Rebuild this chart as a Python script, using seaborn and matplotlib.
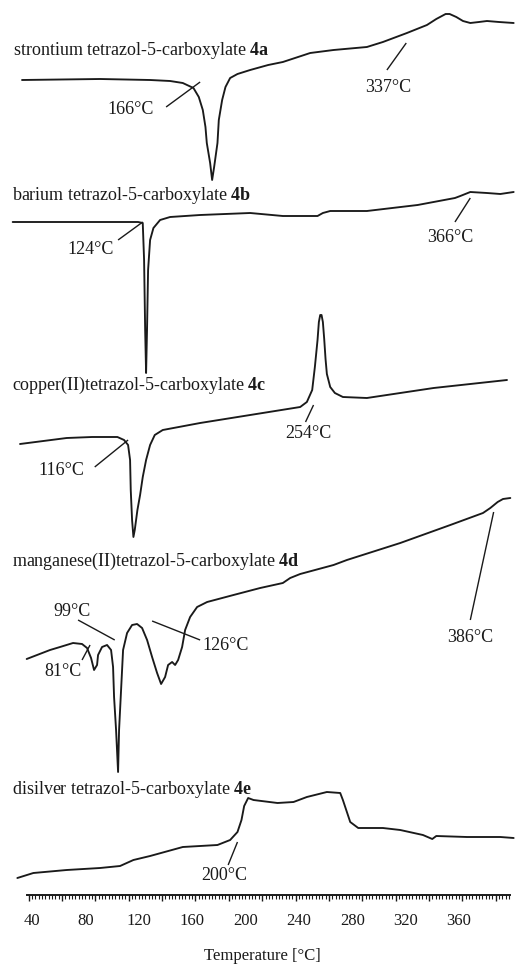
import matplotlib
matplotlib.use("Agg")
import matplotlib.pyplot as plt
import numpy as np
import pandas as pd
import seaborn as sns
from matplotlib.ticker import FixedLocator, NullFormatter

# ---------------- data (temperature in °C, DSC signal in arbitrary units) ----------------
T_4A = [32.5, 91, 128.5, 143.5, 153, 161, 165, 168, 170, 171, 173.5, 175, 176.5, 179, 180,
        182.5, 185, 188.5, 194, 203.5, 217, 228, 248.5, 266, 291, 303, 321, 336, 343, 350,
        353, 358, 363, 368.5, 375, 381, 390, 401]
S_4A = [0, 1, 0, -1, -3, -8, -17, -30, -47, -63, -83, -100, -87, -63, -40,
        -20, -7, 2, 6, 10, 15, 18, 27, 30, 33, 38, 47, 55, 61, 66,
        66, 63, 59, 57, 58, 59, 58, 57]

T_4B = [25.5, 61, 91, 119.5, 123, 124, 124.8, 125.5, 126.2, 127, 128.5, 131, 136, 143.5, 166,
        203.5, 228, 241, 254, 258, 263.5, 276, 291, 329, 357, 361, 368.5, 381, 391, 401]
S_4B = [0, 0, 0, 0, -1, -38, -108, -151, -108, -48, -18, -6, 2, 5, 7,
        9, 6, 6, 6, 9, 11, 11, 11, 17, 24, 26, 30, 29, 28, 30]

T_4C = [31, 66, 85, 104, 109, 112, 113.5, 114, 115, 116, 117, 119, 121, 123, 125.5, 128.5, 132,
        138, 166, 203.5, 241, 246, 250, 252, 254, 255, 256, 257, 258, 259, 260, 261, 263.5,
        267, 273, 291, 341, 396]
S_4C = [0, 6, 7, 7, 4, -1, -16, -46, -76, -93, -86, -66, -51, -33, -16, -1, 9,
        14, 21, 29, 37, 42, 54, 77, 104, 122, 129, 129, 122, 105, 85, 70, 57,
        51, 47, 46, 56, 64]

T_4D = [36, 53.5, 61, 70.75, 77.5, 81.25, 84.25, 86.5, 88.75, 89.5, 92.5, 96.25, 99.25, 100.75,
        101.5, 103, 104.5, 105.25, 106.75, 108.25, 111.25, 115, 118.75, 122.5, 126.25, 130,
        133.75, 136.75, 139.75, 142, 145, 147.25, 149.5, 152.5, 154.75, 158.5, 163.75, 171.25,
        191, 211, 228, 233.5, 241, 266, 276, 316, 353.5, 378, 383.5, 389, 393, 398.5]
S_4D = [0, 9, 12, 16, 15, 11, 1, -11, -6, 4, 12, 14, 9, -8,
        -38, -71, -113, -71, -31, 9, 26, 34, 35, 31, 19, 2,
        -14, -25, -18, -6, -3, -6, -1, 12, 29, 42, 52, 57,
        64, 71, 76, 81, 85, 94, 99, 116, 134, 146, 151, 157, 160, 161]

T_4E = [29, 41, 66, 91, 106, 116, 128.5, 153, 179, 188.5, 194, 197, 199, 202, 206, 224, 236,
        246, 261, 271, 273, 276, 278.5, 284.5, 303, 316, 333, 340, 343, 366, 391, 401]
S_4E = [0, 5, 8, 10, 12, 18, 22, 31, 33, 38, 46, 58, 72, 80, 78, 75, 76,
        81, 86, 85, 78, 66, 56, 50, 50, 48, 43, 39, 42, 41, 41, 40]

CURVES = ["4a", "4b", "4c", "4d", "4e"]
NAMES = ["strontium tetrazol-5-carboxylate", "barium tetrazol-5-carboxylate",
         "copper(II)tetrazol-5-carboxylate", "manganese(II)tetrazol-5-carboxylate",
         "disilver tetrazol-5-carboxylate"]
TEMPS = [T_4A, T_4B, T_4C, T_4D, T_4E]
SIGNALS = [S_4A, S_4B, S_4C, S_4D, S_4E]

TICK_LABELS = [40, 80, 120, 160, 200, 240, 280, 320, 360]

# ---------------- layout (stacking offsets, label positions) ----------------
OFFSETS = [815, 673, 451, 236, 17]
TITLE_POS = [(25.75, 845), (25, 700), (25, 510), (25, 334), (25, 105)]
ANNOT_TEXT = [("166°C", 114, 786), ("337°C", 307, 808),
              ("124°C", 84, 646), ("366°C", 353.5, 658),
              ("254°C", 247, 461), ("116°C", 61.75, 425),
              ("99°C", 70, 284), ("126°C", 185, 250), ("81°C", 63, 224), ("386°C", 368.5, 258),
              ("200°C", 184, 19)]
ANNOT_LINES = [(140.5, 788, 166, 813), (306, 825, 320.5, 852),
               (104.5, 655, 123, 673), (357, 673, 368.5, 697),
               (245, 473, 251, 490), (87, 428, 112, 455),
               (74.5, 275, 102, 255), (130, 274, 166, 255), (77.5, 235, 83.5, 250),
               (368.5, 275, 386, 383),
               (187, 30, 194, 53)]

# ---------------- style ----------------
sns.set_theme(style="white")
plt.rcParams["font.family"] = ["Liberation Serif", "DejaVu Serif"]
plt.rcParams["mathtext.fontset"] = "custom"
plt.rcParams["mathtext.rm"] = "Liberation Serif"
plt.rcParams["mathtext.bf"] = "Liberation Serif:bold"

rows = []
for name, ts, ss, off in zip(CURVES, TEMPS, SIGNALS, OFFSETS):
    for i, (t, s) in enumerate(zip(ts, ss)):
        rows.append({"curve": name, "order": i, "T": t, "y": s + off})
df = pd.DataFrame(rows)

W, H = 515, 967
fig = plt.figure(figsize=(W / 100, H / 100), dpi=100)
ax = fig.add_axes([10 / W, 72 / H, 505 / W, 895 / H])

sns.lineplot(data=df, x="T", y="y", units="curve", estimator=None, sort=False,
             color="#1a1a1a", linewidth=1.35, ax=ax, legend=False)
for ln in ax.lines:
    ln.set_solid_joinstyle("round")

ax.set_xlim(23.5, 402)
ax.set_ylim(0, 895)

for (label, code), (tx, ty) in zip(zip(NAMES, CURVES), TITLE_POS):
    ax.text(tx, ty, label + " $\\mathbf{" + code + "}$", ha="left", va="center",
            fontsize=13, color="#1a1a1a")

for txt, tx, ty in ANNOT_TEXT:
    ax.text(tx, ty, txt, ha="center", va="center", fontsize=13, color="#1a1a1a")

for x1, y1, x2, y2 in ANNOT_LINES:
    ax.plot([x1, x2], [y1, y2], color="#1a1a1a", lw=1.0, solid_capstyle="butt")

# axes decorations
for sp in ["top", "right", "left"]:
    ax.spines[sp].set_visible(False)
ax.spines["bottom"].set_bounds(36.25, 398.5)
ax.spines["bottom"].set_linewidth(1.4)
ax.spines["bottom"].set_color("#1a1a1a")
ax.set_yticks([])
ax.set_ylabel("")
ax.set_xlabel("")
ax.xaxis.set_major_locator(FixedLocator(np.arange(37.5, 399, 25)))
ax.xaxis.set_minor_locator(FixedLocator(np.arange(37.5, 399, 2.5)))
ax.xaxis.set_major_formatter(NullFormatter())
ax.tick_params(axis="x", which="major", direction="out", length=4.5, width=1.0,
               color="#1a1a1a", bottom=True)
ax.tick_params(axis="x", which="minor", direction="out", length=2.8, width=0.8,
               color="#1a1a1a", bottom=True)

sec = ax.secondary_xaxis("bottom")
sec.set_xticks(TICK_LABELS)
sec.set_xticklabels([str(v) for v in TICK_LABELS])
sec.tick_params(length=0, pad=13, labelsize=12, labelcolor="#1a1a1a")
sec.spines["bottom"].set_visible(False)
sec.set_xlabel("Temperature [°C]", fontsize=12, color="#1a1a1a", labelpad=14)

fig.savefig("out.png", dpi=100)
